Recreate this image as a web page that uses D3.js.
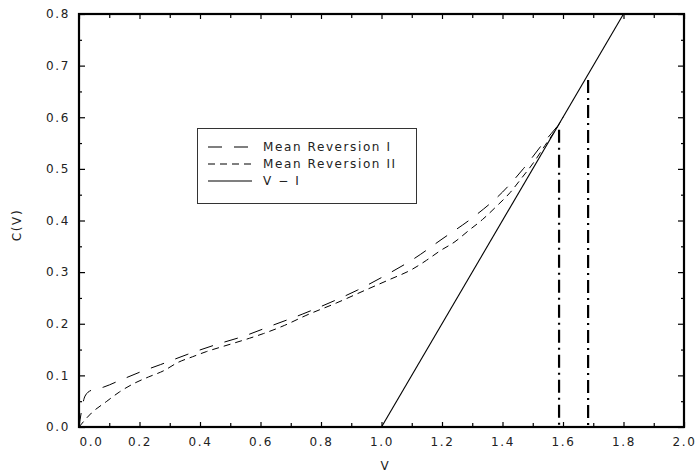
<!DOCTYPE html>
<html>
<head>
<meta charset="utf-8">
<script src="https://cdn.jsdelivr.net/npm/d3@7"></script>
<style>
  body { margin: 0; background: #fff; }
  svg text { font-family: "DejaVu Sans", sans-serif; font-size: 12px; letter-spacing: 1.6px; fill: #222; }
</style>
</head>
<body>
<svg id="chart" width="697" height="473"></svg>
<script>
// Mean Reversion I (long dash)
var mr1_v = [0, 0.02, 0.04, 0.08, 0.13, 0.2, 0.27, 0.36, 0.45, 0.55, 0.64, 0.74, 0.83, 0.92, 1.02, 1.11, 1.2, 1.3, 1.4, 1.47, 1.535, 1.562, 1.585];
var mr1_c = [0, 0.06, 0.071, 0.077, 0.089, 0.106, 0.121, 0.141, 0.159, 0.177, 0.197, 0.219, 0.241, 0.265, 0.296, 0.327, 0.364, 0.405, 0.455, 0.501, 0.55, 0.569, 0.585];

// Mean Reversion II (short dash)
var mr2_v = [0, 0.041, 0.09, 0.134, 0.184, 0.23, 0.28, 0.327, 0.375, 0.421, 0.47, 0.515, 0.564, 0.61, 0.68, 0.75, 0.85, 0.95, 1.028, 1.1, 1.149, 1.193, 1.243, 1.287, 1.334, 1.381, 1.425, 1.463, 1.505, 1.54, 1.575, 1.6];
var mr2_c = [0, 0.027, 0.049, 0.068, 0.085, 0.097, 0.109, 0.125, 0.136, 0.146, 0.155, 0.163, 0.172, 0.181, 0.197, 0.216, 0.240, 0.266, 0.286, 0.305, 0.323, 0.341, 0.359, 0.380, 0.402, 0.428, 0.454, 0.482, 0.514, 0.545, 0.575, 0.6];

// V - 1
var payoff_v = [1.0, 1.8];
var payoff_c = [0.0, 0.8];

// exercise boundaries (dash-dot verticals)
var bound_v = [1.587, 1.683];
var bound_top = [0.576, 0.672];

var xMajor = [0, 0.2, 0.4, 0.6, 0.8, 1.0, 1.2, 1.4, 1.6, 1.8, 2.0];
var xMinor = [0.1, 0.3, 0.5, 0.7, 0.9, 1.1, 1.3, 1.5, 1.7, 1.9];
var yMajor = [0, 0.1, 0.2, 0.3, 0.4, 0.5, 0.6, 0.7, 0.8];
var yMinor = [0.05, 0.15, 0.25, 0.35, 0.45, 0.55, 0.65, 0.75];

var legend_labels = ["Mean Reversion I", "Mean Reversion II", "V \u2212 I"];
var legend_dash = ["14,12", "7,5", null];

var pLeft = 79, pRight = 684, pTop = 14, pBottom = 427;

var x = d3.scaleLinear().domain([0, 2]).range([pLeft, pRight]);
var y = d3.scaleLinear().domain([0, 0.8]).range([pBottom, pTop]);

var svg = d3.select("#chart");

svg.append("clipPath").attr("id", "clip")
    .append("rect")
    .attr("x", pLeft).attr("y", pTop)
    .attr("width", pRight - pLeft).attr("height", pBottom - pTop);

// ticks, all pointing inward
function drawAxis(axis, tx, ty, labels) {
    var g = svg.append("g")
        .attr("transform", "translate(" + tx + "," + ty + ")")
        .call(axis);
    g.select(".domain").remove();
    g.selectAll("line").attr("stroke", "#000").attr("stroke-width", 1.2);
    if (!labels) g.selectAll("text").remove();
    return g;
}

var fmt = d3.format(".1f");

var gx = drawAxis(d3.axisBottom(x).tickValues(xMajor).tickSize(-5).tickPadding(10).tickFormat(fmt), 0, pBottom, true);
gx.attr("font-size", null).attr("font-family", null);
gx.selectAll("text").attr("fill", "#222");
gx.selectAll(".tick").filter(function(d) { return d === 0; }).select("text").attr("dx", 12);
drawAxis(d3.axisBottom(x).tickValues(xMinor).tickSize(-4).tickFormat(""), 0, pBottom, false);
drawAxis(d3.axisTop(x).tickValues(xMajor).tickSize(-5).tickFormat(""), 0, pTop, false);
drawAxis(d3.axisTop(x).tickValues(xMinor).tickSize(-4).tickFormat(""), 0, pTop, false);

var gy = drawAxis(d3.axisLeft(y).tickValues(yMajor).tickSize(-6).tickPadding(9).tickFormat(fmt), pLeft, 0, true);
gy.attr("font-size", null).attr("font-family", null);
gy.selectAll("text").attr("fill", "#222");
drawAxis(d3.axisLeft(y).tickValues(yMinor).tickSize(-3).tickFormat(""), pLeft, 0, false);
drawAxis(d3.axisRight(y).tickValues(yMajor).tickSize(-6).tickFormat(""), pRight, 0, false);
drawAxis(d3.axisRight(y).tickValues(yMinor).tickSize(-3).tickFormat(""), pRight, 0, false);

// curves
var plot = svg.append("g").attr("clip-path", "url(#clip)");

var line = d3.line()
    .x(function(d) { return x(d[0]); })
    .y(function(d) { return y(d[1]); })
    .curve(d3.curveMonotoneX);

plot.append("path")
    .datum(d3.zip(mr1_v, mr1_c))
    .attr("d", line)
    .attr("fill", "none").attr("stroke", "#000").attr("stroke-width", 1)
    .attr("stroke-dasharray", "14,12");

plot.append("path")
    .datum(d3.zip(mr2_v, mr2_c))
    .attr("d", line)
    .attr("fill", "none").attr("stroke", "#000").attr("stroke-width", 1)
    .attr("stroke-dasharray", "7,5");

plot.append("path")
    .datum(d3.zip(payoff_v, payoff_c))
    .attr("d", d3.line().x(function(d) { return x(d[0]); }).y(function(d) { return y(d[1]); }))
    .attr("fill", "none").attr("stroke", "#000").attr("stroke-width", 1.1);

plot.selectAll(".bound")
    .data(d3.zip(bound_v, bound_top))
    .enter().append("line")
    .attr("class", "bound")
    .attr("x1", function(d) { return x(d[0]); })
    .attr("x2", function(d) { return x(d[0]); })
    .attr("y1", function(d) { return y(d[1]); })
    .attr("y2", y(0))
    .attr("stroke", "#000").attr("stroke-width", 2.2)
    .attr("stroke-dasharray", "13,5,2,5");

// frame
svg.append("rect")
    .attr("x", pLeft).attr("y", pTop)
    .attr("width", pRight - pLeft).attr("height", pBottom - pTop)
    .attr("fill", "none").attr("stroke", "#000").attr("stroke-width", 2.2);

// axis titles
svg.append("text")
    .attr("x", (pLeft + pRight) / 2 + 4).attr("y", 470)
    .attr("text-anchor", "middle")
    .text("V");

svg.append("text")
    .attr("transform", "translate(21,225)rotate(-90)")
    .attr("text-anchor", "middle")
    .text("C(V)");

// legend
var lg = svg.append("g");
lg.append("rect")
    .attr("x", 197.5).attr("y", 128.5)
    .attr("width", 219).attr("height", 75)
    .attr("fill", "#fff").attr("stroke", "#333").attr("stroke-width", 1);

var rows = lg.selectAll(".row")
    .data(legend_labels)
    .enter().append("g")
    .attr("transform", function(d, i) { return "translate(0," + (147 + i * 17) + ")"; });

rows.append("line")
    .attr("x1", 208).attr("x2", 252)
    .attr("stroke", "#000").attr("stroke-width", 1.1)
    .attr("stroke-dasharray", function(d, i) { return legend_dash[i]; });

rows.append("text")
    .attr("x", 263).attr("dy", "0.35em")
    .text(function(d) { return d; });
</script>
</body>
</html>
